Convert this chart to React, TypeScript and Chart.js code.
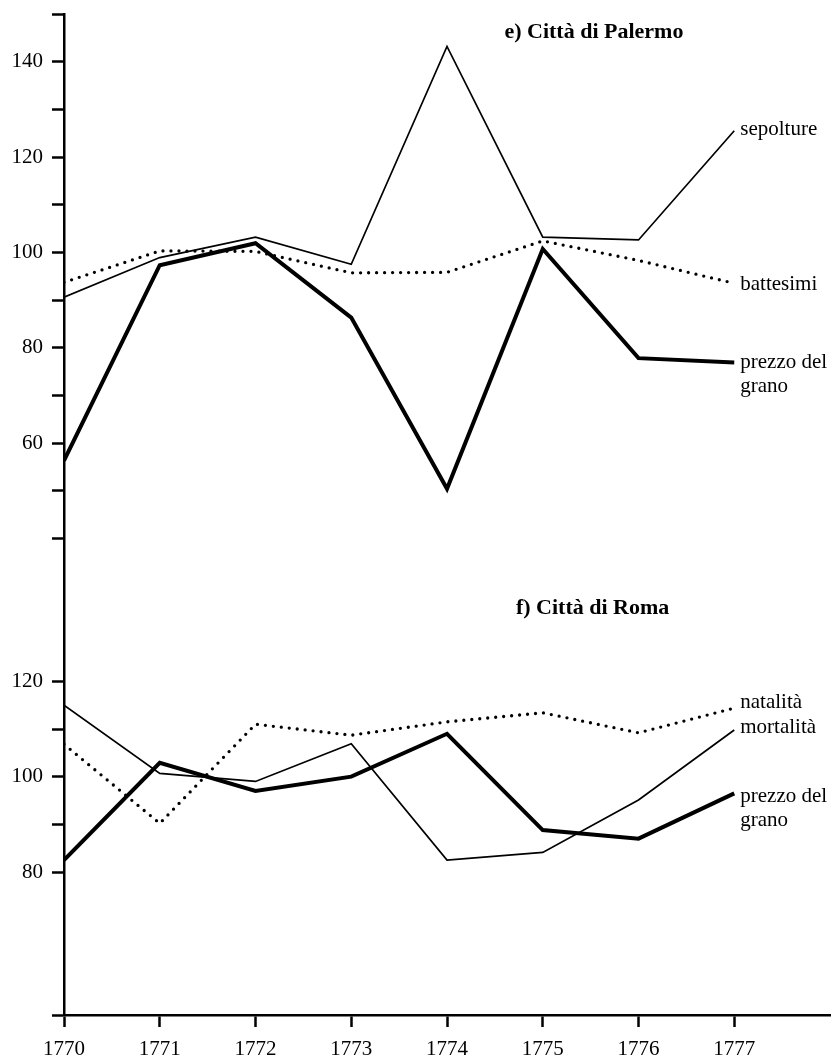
import React, { useEffect, useRef } from "react";
import { Chart, registerables } from "chart.js";

Chart.register(...registerables);

// ---------- data ----------
const years = [1770, 1771, 1772, 1773, 1774, 1775, 1776, 1777];

// e) Città di Palermo
const sepolture = [90.6, 98.9, 103.2, 97.5, 143.2, 103.2, 102.6, 125.5];
const battesimi = [93.7, 100.3, 100.2, 95.7, 95.8, 102.4, 98.3, 93.5];
const prezzoPalermo = [56.3, 97.3, 101.9, 86.3, 50.4, 100.7, 77.8, 76.9];

// f) Città di Roma
const mortalita = [115.0, 100.7, 99.0, 106.9, 82.5, 84.1, 95.1, 109.8];
const natalita = [106.8, 90.2, 111.0, 108.7, 111.5, 113.4, 109.2, 114.4];
const prezzoRoma = [82.5, 102.9, 97.0, 100.0, 109.0, 88.8, 87.0, 96.5];

// tick values of each panel
const palermoTicks = [150, 140, 130, 120, 110, 100, 90, 80, 70, 60, 50, 40];
const palermoLabels = [140, 120, 100, 80, 60];
const romaTicks = [120, 110, 100, 90, 80];
const romaLabels = [120, 100, 80];

// the Roma panel shares the axis, shifted down by this many units
const ROMA_SHIFT = 110;
const Y_MIN = -60;
const Y_MAX = 150;
const X_MAX = 1778;

const FONT = "'Liberation Serif', 'Times New Roman', serif";

type Lbl = { text: string[]; series: number; dy: number };

export default function App() {
  const ref = useRef<HTMLCanvasElement | null>(null);

  useEffect(() => {
    if (!ref.current) return;
    const shift = (arr: number[]) => arr.map((v) => v - ROMA_SHIFT);
    const toXY = (arr: number[]) => arr.map((v, i) => ({ x: years[i], y: v }));

    const thin = { borderWidth: 1.7 };
    const thick = { borderWidth: 4 };
    const dotted = { borderWidth: 3.3, borderDash: [0, 8], borderCapStyle: "round" as const };

    const datasets = [
      { label: "sepolture", data: toXY(sepolture), ...thin },
      { label: "battesimi", data: toXY(battesimi), ...dotted },
      { label: "prezzo del grano (Palermo)", data: toXY(prezzoPalermo), ...thick },
      { label: "mortalità", data: toXY(shift(mortalita)), ...thin },
      { label: "natalità", data: toXY(shift(natalita)), ...dotted },
      { label: "prezzo del grano (Roma)", data: toXY(shift(prezzoRoma)), ...thick },
    ].map((d) => ({
      ...d,
      borderColor: "#000",
      backgroundColor: "#000",
      pointRadius: 0,
      tension: 0,
      fill: false,
    }));

    const allTicks = [
      ...palermoTicks,
      ...romaTicks.map((v) => v - ROMA_SHIFT),
      Y_MIN,
    ];
    const labelMap = new Map<number, string>();
    palermoLabels.forEach((v) => labelMap.set(v, String(v)));
    romaLabels.forEach((v) => labelMap.set(v - ROMA_SHIFT, String(v)));

    const seriesLabels: Lbl[] = [
      { text: ["sepolture"], series: 0, dy: -1 },
      { text: ["battesimi"], series: 1, dy: 1 },
      { text: ["prezzo del", "grano"], series: 2, dy: 0 },
      { text: ["natalità"], series: 4, dy: -6 },
      { text: ["mortalità"], series: 3, dy: -2 },
      { text: ["prezzo del", "grano"], series: 5, dy: 3 },
    ];

    const titles = [
      { text: "e) Città di Palermo", x: 1774.6, y: 146.2 },
      { text: "f) Città di Roma", x: 1774.72, y: 25.4 },
    ];

    const labelPlugin = {
      id: "labels",
      afterDraw(chart: any) {
        const ctx = chart.ctx;
        const xs = chart.scales.x;
        const ys = chart.scales.y;
        ctx.save();
        ctx.fillStyle = "#000";
        ctx.textBaseline = "middle";
        ctx.textAlign = "left";
        ctx.font = `21px ${FONT}`;
        seriesLabels.forEach((l) => {
          const d = chart.data.datasets[l.series].data as any[];
          const last = d[d.length - 1];
          const px = xs.getPixelForValue(last.x) + 6;
          const py = ys.getPixelForValue(last.y) + l.dy;
          l.text.forEach((t, i) => ctx.fillText(t, px, py + i * 24));
        });
        ctx.font = `bold 22px ${FONT}`;
        titles.forEach((t) => {
          ctx.fillText(t.text, xs.getPixelForValue(t.x), ys.getPixelForValue(t.y));
        });
        ctx.restore();
      },
    };

    const chart = new Chart(ref.current, {
      type: "line",
      data: { datasets: datasets as any },
      options: {
        animation: false,
        responsive: false,
        maintainAspectRatio: false,
        layout: { padding: { top: 14, right: 7, left: 0, bottom: 0 } },
        plugins: {
          legend: { display: false },
          tooltip: { enabled: false },
          title: { display: false },
        },
        scales: {
          x: {
            type: "linear",
            min: years[0],
            max: X_MAX,
            afterBuildTicks: (s: any) => {
              s.ticks = years.map((v) => ({ value: v }));
            },
            afterFit: (s: any) => {
              s.height = 44;
              s.paddingLeft = 0;
              s.paddingRight = 0;
            },
            border: { display: true, color: "#000", width: 2.5 },
            grid: {
              drawOnChartArea: false,
              drawTicks: true,
              tickLength: 12,
              tickColor: "#000",
              tickWidth: 2.5,
            },
            ticks: {
              color: "#000",
              font: { family: FONT, size: 21 },
              padding: 10,
              maxRotation: 0,
              autoSkip: false,
              callback: (v: any) => String(v),
            },
          },
          y: {
            type: "linear",
            min: Y_MIN,
            max: Y_MAX,
            afterBuildTicks: (s: any) => {
              s.ticks = allTicks.map((v) => ({ value: v }));
            },
            afterFit: (s: any) => {
              s.width = 64;
              s.paddingTop = 0;
              s.paddingBottom = 0;
            },
            border: { display: true, color: "#000", width: 2.5 },
            grid: {
              drawOnChartArea: false,
              drawTicks: true,
              tickLength: 12,
              tickColor: "#000",
              tickWidth: 2.5,
            },
            ticks: {
              color: "#000",
              font: { family: FONT, size: 21 },
              padding: 9,
              autoSkip: false,
              callback: (v: any) => labelMap.get(Number(v)) ?? "",
            },
          },
        },
      },
      plugins: [labelPlugin],
    });
    return () => chart.destroy();
  }, []);

  return (
    <div style={{ position: "fixed", left: 0, top: 0, width: 837, height: 1059, background: "#fff" }}>
      <canvas ref={ref} width={837} height={1059} style={{ display: "block" }} />
    </div>
  );
}
